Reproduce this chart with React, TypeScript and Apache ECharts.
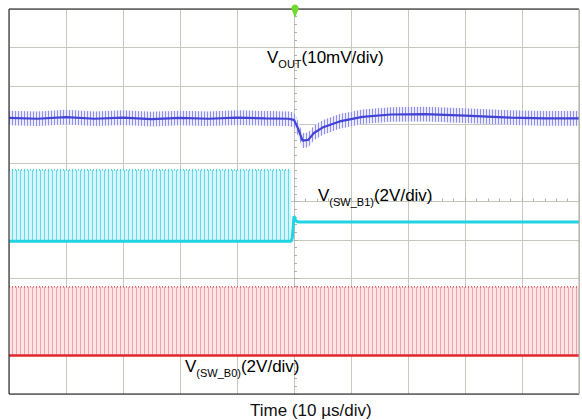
import React, { useEffect, useRef } from "react";
import * as echarts from "echarts";

// Time axis in µs (10 µs/div), vertical axis in divisions (centre = 0)
const TIME_MIN = -50;
const TIME_MAX = 50;
const DIV_MIN = -5;
const DIV_MAX = 5;

// V_OUT trace (divisions)
const blueT = [-50, -45, -40, -35, -30, -25, -20, -15, -10, -5, -1, 0, 0.7, 1.5, 2.5, 3.5, 5, 8, 12, 17, 23, 30, 38, 44, 50];
const blueV = [2.17, 2.15, 2.19, 2.15, 2.18, 2.14, 2.17, 2.15, 2.18, 2.16, 2.15, 2.12, 1.9, 1.58, 1.6, 1.78, 1.92, 2.08, 2.2, 2.26, 2.27, 2.23, 2.18, 2.16, 2.16];
const blueRipple = 0.19;

// V(SW_B1) switching band before the transient, then steady level
const cyanHigh = 0.82;
const cyanLow = -1.03;
const cyanBandEnd = -0.5;
const cyanAfterT = [-0.5, -0.3, 0, 0.3, 0.7, 50];
const cyanAfterV = [-1.03, -0.95, -0.38, -0.5, -0.53, -0.53];

// V(SW_B0) switching band
const redHigh = -2.22;
const redLow = -4.0;

export default function App() {
  const ref = useRef<HTMLDivElement>(null);
  useEffect(() => {
    if (!ref.current) return;
    const chart = echarts.init(ref.current, null, { renderer: "svg" });
    const font = "Liberation Sans, Arial, Helvetica, sans-serif";
    const rich = {
      m: { fontSize: 17, lineHeight: 24, fontFamily: font, color: "#111", verticalAlign: "middle" },
      s: { fontSize: 11, lineHeight: 14, fontFamily: font, color: "#111", verticalAlign: "bottom" },
    };
    const stripe = (color: string, gap = 3) => ({
      symbol: "rect",
      symbolSize: 1,
      color,
      dashArrayX: [1, gap],
      dashArrayY: [4, 0],
    });
    const L = 9, T = 9, R = 579, B = 394;
    chart.setOption({
      animation: false,
      backgroundColor: "#ffffff",
      grid: { left: L, top: T, width: R - L, height: B - T, show: false },
      xAxis: {
        type: "value",
        min: TIME_MIN,
        max: TIME_MAX,
        interval: 10,
        axisLabel: { show: false },
        axisLine: { onZero: true, lineStyle: { color: "#c4c4bc", width: 1 } },
        axisTick: { show: true, inside: true, length: 4, lineStyle: { color: "#b0b0a8" } },
        minorTick: { show: true, splitNumber: 5, length: 3, lineStyle: { color: "#b0b0a8" } },
        splitLine: { show: true, lineStyle: { color: "#c8c8c0", width: 1 } },
      },
      yAxis: {
        type: "value",
        min: DIV_MIN,
        max: DIV_MAX,
        interval: 1,
        axisLabel: { show: false },
        axisLine: { onZero: true, lineStyle: { color: "#c4c4bc", width: 1 } },
        axisTick: { show: true, inside: true, length: 4, lineStyle: { color: "#b0b0a8" } },
        minorTick: { show: true, splitNumber: 5, length: 3, lineStyle: { color: "#b0b0a8" } },
        splitLine: { show: true, lineStyle: { color: "#c8c8c0", width: 1 } },
      },
      series: [
        {
          type: "line",
          name: "SW_B0 band",
          data: [[TIME_MIN, redHigh], [TIME_MAX, redHigh]],
          symbol: "none",
          lineStyle: { color: "#d23a40", width: 1.2, type: [1, 2] },
          itemStyle: { color: "#d23a40", decal: stripe("#f2a2aa") },
          areaStyle: { origin: redLow, color: "#fde4e4", opacity: 1 },
        },
        {
          type: "line",
          name: "SW_B0 low",
          data: [[TIME_MIN, redLow], [TIME_MAX, redLow]],
          symbol: "none",
          lineStyle: { color: "#e0262e", width: 2.5 },
        },
        {
          type: "line",
          name: "SW_B1 band",
          data: [[TIME_MIN, cyanHigh], [cyanBandEnd, cyanHigh]],
          symbol: "none",
          lineStyle: { color: "#18c6d6", width: 1.2, type: [1, 2] },
          itemStyle: { color: "#18c6d6", decal: stripe("#5edcea") },
          areaStyle: { origin: cyanLow, color: "#d8f6fa", opacity: 1 },
        },
        {
          type: "line",
          name: "SW_B1",
          data: [[TIME_MIN, cyanLow], ...cyanAfterT.map((t, i) => [t, cyanAfterV[i]])],
          symbol: "none",
          lineStyle: { color: "#22d4e2", width: 3 },
        },
        {
          type: "custom",
          name: "VOUT ripple",
          coordinateSystem: "cartesian2d",
          data: [[0, 0]],
          clip: true,
          renderItem: (_params: any, api: any) => {
            const upper = blueT.map((t, i) => api.coord([t, blueV[i] + blueRipple]));
            const lower = blueT.map((t, i) => api.coord([t, blueV[i] - blueRipple])).reverse();
            return {
              type: "polygon",
              shape: { points: upper.concat(lower) },
              style: { fill: "#ececfc", decal: stripe("#8e8eec", 2) },
            };
          },
        },
        {
          type: "line",
          name: "VOUT",
          data: blueT.map((t, i) => [t, blueV[i]]),
          symbol: "none",
          lineStyle: { color: "#4242d4", width: 2.2 },
        },
      ],
      graphic: [
        { type: "line", shape: { x1: L, y1: T, x2: R, y2: T }, style: { stroke: "#111", lineWidth: 1.2 }, z: 90 },
        { type: "line", shape: { x1: L, y1: B, x2: R, y2: B }, style: { stroke: "#111", lineWidth: 1.2 }, z: 90 },
        { type: "line", shape: { x1: L, y1: T, x2: L, y2: B }, style: { stroke: "#333", lineWidth: 1.2 }, z: 90 },
        { type: "line", shape: { x1: R, y1: T, x2: R, y2: B }, style: { stroke: "#a8a8a0", lineWidth: 1 }, z: 90 },
        { type: "circle", shape: { cx: 295, cy: 8, r: 3.5 }, style: { fill: "#6edc2c" }, z: 100 },
        { type: "polygon", shape: { points: [[291.5, 9], [298.5, 9], [295, 18]] }, style: { fill: "#6edc2c" }, z: 100 },
        {
          type: "text",
          left: 267,
          top: 49,
          style: { text: "{m|V}{s|OUT}{m|(10mV/div)}", rich },
          z: 100,
        },
        {
          type: "text",
          left: 318,
          top: 187,
          style: { text: "{m|V}{s|(SW_B1)}{m|(2V/div)}", rich },
          z: 100,
        },
        {
          type: "text",
          left: 185,
          top: 358,
          style: { text: "{m|V}{s|(SW_B0)}{m|(2V/div)}", rich },
          z: 100,
        },
        {
          type: "text",
          x: 250,
          y: 410,
          style: {
            text: "Time (10 µs/div)",
            fontSize: 17,
            fontFamily: font,
            fill: "#111",
            textAlign: "left",
            textVerticalAlign: "middle",
          },
          z: 100,
        },
      ],
    });
    return () => chart.dispose();
  }, []);
  return <div ref={ref} style={{ position: "fixed", left: 0, top: 0, width: 582, height: 420 }} />;
}
